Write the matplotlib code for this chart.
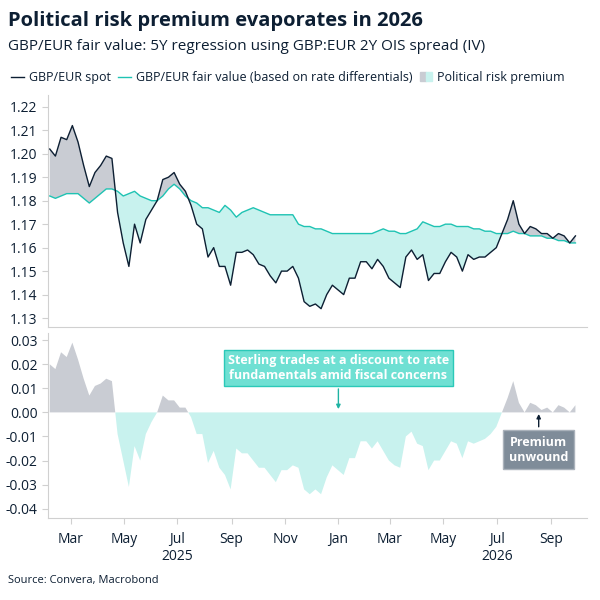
import numpy as np
import pandas as pd
import matplotlib
matplotlib.use("Agg")
import matplotlib.pyplot as plt
import matplotlib.dates as mdates
from matplotlib.lines import Line2D
from matplotlib.patches import Patch
from matplotlib.legend_handler import HandlerTuple

plt.rcParams['font.family'] = ['Open Sans', 'DejaVu Sans']

start_date = "2025-02-05"
end_date = "2026-09-29"
spot = [1.202,1.199,1.207,1.206,1.212,1.205,1.195,1.186,1.192,1.195,1.199,1.198,1.175,1.162,1.152,1.170,
        1.162,1.172,1.176,1.180,1.189,1.190,1.192,1.187,1.184,1.178,1.170,1.168,1.156,1.160,1.152,1.152,
        1.144,1.158,1.158,1.159,1.157,1.153,1.152,1.148,1.145,1.150,1.150,1.152,1.147,1.137,1.135,1.136,
        1.134,1.140,1.144,1.142,1.140,1.147,1.147,1.154,1.154,1.151,1.155,1.152,1.147,1.145,1.143,1.156,
        1.159,1.155,1.157,1.146,1.149,1.149,1.154,1.158,1.156,1.150,1.157,1.155,1.156,1.156,1.158,1.160,
        1.166,1.172,1.180,1.170,1.166,1.169,1.168,1.166,1.166,1.164,1.166,1.165,1.162,1.165]
fair = [1.182,1.181,1.182,1.183,1.183,1.183,1.181,1.179,1.181,1.183,1.185,1.185,1.184,1.182,1.183,1.184,
        1.182,1.181,1.180,1.180,1.182,1.185,1.187,1.185,1.182,1.180,1.179,1.177,1.177,1.176,1.175,1.178,
        1.176,1.173,1.175,1.176,1.177,1.176,1.175,1.174,1.174,1.174,1.174,1.174,1.170,1.169,1.169,1.168,
        1.168,1.167,1.166,1.166,1.166,1.166,1.166,1.166,1.166,1.166,1.167,1.168,1.167,1.167,1.166,1.166,
        1.167,1.168,1.171,1.170,1.169,1.169,1.170,1.170,1.169,1.169,1.169,1.168,1.168,1.167,1.167,1.166,
        1.166,1.166,1.167,1.166,1.166,1.165,1.165,1.165,1.164,1.164,1.163,1.163,1.162,1.162]

dates = pd.date_range(start_date, end_date, periods=len(spot))
s = np.array(spot); f = np.array(fair)
prem = s - f

NAVY = "#0d1f33"; TEAL = "#1fc3b3"; LTEAL = "#c8f2ee"; GREY = "#c9ccd3"

fig = plt.figure(figsize=(6, 6), dpi=100)
ax1 = fig.add_axes([0.08, 0.455, 0.898, 0.387])
ax2 = fig.add_axes([0.08, 0.137, 0.898, 0.308], sharex=ax1)

ax1.fill_between(dates, s, f, where=s >= f, interpolate=True, color=GREY, lw=0)
ax1.fill_between(dates, s, f, where=s < f, interpolate=True, color=LTEAL, lw=0)
ax1.plot(dates, f, color=TEAL, lw=1)
ax1.plot(dates, s, color=NAVY, lw=1)
ax1.set_ylim(1.1262, 1.2251)
ax1.set_yticks(np.arange(1.13, 1.2201, 0.01))
ax1.yaxis.set_major_formatter(plt.FormatStrFormatter('%.2f'))

ax2.fill_between(dates, prem, 0, where=prem >= 0, interpolate=True, color=GREY, lw=0)
ax2.fill_between(dates, prem, 0, where=prem < 0, interpolate=True, color=LTEAL, lw=0)
ax2.set_ylim(-0.0438, 0.033)
ax2.set_yticks(np.arange(-0.04, 0.0301, 0.01))
ax2.yaxis.set_major_formatter(plt.FormatStrFormatter('%.2f'))

for ax in (ax1, ax2):
    for sp in ('top', 'right'):
        ax.spines[sp].set_visible(False)
    ax.spines['left'].set_color('#d0d0d0')
    ax.spines['bottom'].set_color('#d0d0d0')
    ax.tick_params(axis='y', labelsize=10, colors='#d0d0d0', labelcolor=NAVY, length=4)
    ax.tick_params(axis='x', colors='#d0d0d0', labelcolor=NAVY, labelsize=10, length=4)
ax1.tick_params(axis='x', labelbottom=False, length=0)

ax1.set_xlim(pd.Timestamp("2025-02-03"), pd.Timestamp("2026-10-12"))
ax2.xaxis.set_major_locator(mdates.MonthLocator(bymonth=[1, 3, 5, 7, 9, 11]))
ax2.xaxis.set_major_formatter(mdates.DateFormatter('%b'))
ax2.tick_params(axis='x', pad=6)
for yr, d in (("2025", "2025-07-01"), ("2026", "2026-07-01")):
    ax2.annotate(yr, (pd.Timestamp(d), 0), xycoords=('data', 'axes fraction'),
                 xytext=(0, -28), textcoords='offset points', ha='center', va='center',
                 fontsize=10, color=NAVY)

ax2.annotate("Sterling trades at a discount to rate\nfundamentals amid fiscal concerns",
             xy=(pd.Timestamp("2026-01-01"), 0.0002), xytext=(pd.Timestamp("2026-01-01"), 0.0185),
             ha='center', va='center', fontsize=9, fontweight='bold', color='white',
             bbox=dict(boxstyle='square,pad=0.3', fc='#6fe0d3', ec='#2bc9b8', lw=1),
             arrowprops=dict(arrowstyle='-|>', color='#1fb3a3', lw=1, mutation_scale=6))
ax2.annotate("Premium\nunwound",
             xy=(pd.Timestamp("2026-08-18"), 0.0005), xytext=(pd.Timestamp("2026-08-18"), -0.0155),
             ha='center', va='center', fontsize=9, fontweight='bold', color='white',
             bbox=dict(boxstyle='square,pad=0.45', fc='#7f8c99', ec='#aab2bb', lw=1),
             arrowprops=dict(arrowstyle='-|>', color=NAVY, lw=1, mutation_scale=6))

fig.text(0.013, 0.965, "Political risk premium evaporates in 2026", fontsize=14.5,
         fontweight='bold', color=NAVY, va='center')
fig.text(0.013, 0.922, "GBP/EUR fair value: 5Y regression using GBP:EUR 2Y OIS spread (IV)",
         fontsize=11, color=NAVY, va='center')
fig.text(0.013, 0.033, "Source: Convera, Macrobond", fontsize=8, color=NAVY, va='center')

handles = [Line2D([], [], color=NAVY, lw=1), Line2D([], [], color=TEAL, lw=1),
           (Patch(color=GREY), Patch(color=LTEAL))]
labels = ["GBP/EUR spot", "GBP/EUR fair value (based on rate differentials)", "Political risk premium"]
fig.legend(handles, labels, loc='center left', bbox_to_anchor=(0.0, 0.871), ncol=3, frameon=False,
           fontsize=9, handlelength=1.0, handletextpad=0.4, columnspacing=0.6, labelcolor=NAVY,
           handler_map={tuple: HandlerTuple(ndivide=None, pad=0)})

fig.savefig("out.png", dpi=100)
